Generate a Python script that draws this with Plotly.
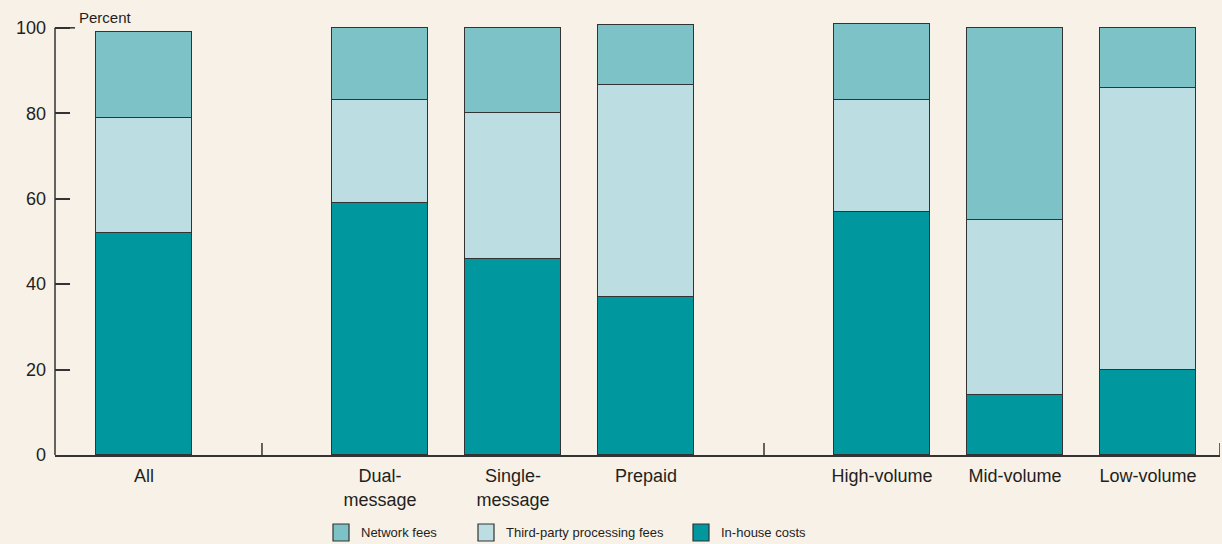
import plotly.graph_objects as go

# Share of total cost by component, grouped by card category
groups = [
    ["All"],
    ["Dual-message", "Single-message", "Prepaid"],
    ["High-volume", "Mid-volume", "Low-volume"],
]
tick_labels = ["All", "Dual-<br>message", "Single-<br>message", "Prepaid",
               "High-volume", "Mid-volume", "Low-volume"]

in_house = [52, 59, 46, 37, 57, 14, 20]
third_party = [27, 24, 34, 49.6, 26, 41, 66]
network = [20, 17, 20, 14, 18, 45, 14]

series_names = ["Network fees", "Third-party processing fees", "In-house costs"]
colors = {"Network fees": "#7cc2c7",
          "Third-party processing fees": "#bcdee3",
          "In-house costs": "#00979f"}

BG = "#f8f1e7"
INK = "#333333"
TEXT = "#231f20"
FONT = "Liberation Sans, Arial, sans-serif"

# x positions: one slot per bar, extra space between groups
GROUP_GAP = 0.774
xpos = []
cur = 0.0
for gi, g in enumerate(groups):
    if gi > 0:
        cur += GROUP_GAP
    for _ in g:
        xpos.append(cur)
        cur += 1.0

# separator marks halfway between the last bar of one group and the first of the next
separators = []
idx = 0
for gi, g in enumerate(groups):
    if gi > 0:
        separators.append((xpos[idx - 1] + xpos[idx]) / 2)
    idx += len(g)

XMIN, XMAX = -0.669, xpos[-1] + 0.541
BAR_W = 0.722
YMAX = 101.6  # a little headroom so totals slightly above 100 are not cut

fig = go.Figure()
stack = [("In-house costs", in_house),
         ("Third-party processing fees", third_party),
         ("Network fees", network)]
for name, vals in stack:
    fig.add_trace(go.Bar(
        x=xpos, y=vals, name=name, width=BAR_W,
        marker=dict(color=colors[name], line=dict(color=INK, width=1.4)),
        showlegend=False,
        hovertemplate="%{y}%<extra>" + name + "</extra>",
    ))

# layout geometry in pixels
W, H = 1222, 544
ML, MR, MT, MB = 55, 2, 21, 89
PW, PH = W - ML - MR, H - MT - MB


def px_x(px):
    return (px - ML) / PW


def px_y(py):
    return (H - MB - py) / PH


shapes, annotations = [], []

# vertical axis line stops at 100
shapes.append(dict(type="line", xref="paper", yref="y", x0=0, x1=0, y0=0, y1=100,
                   line=dict(color=INK, width=1.5)))
# group separator ticks and right-end tick on the baseline
for s in separators + [XMAX]:
    shapes.append(dict(type="line", xref="x", yref="y", x0=s, x1=s, y0=0, y1=2.8,
                       line=dict(color=INK, width=1.5)))
# longer tick at 100 leading to the unit label
shapes.append(dict(type="line", xref="paper", yref="y", x0=0, x1=px_x(75), y0=100, y1=100,
                   line=dict(color=INK, width=1.5)))
annotations.append(dict(text="Percent", xref="paper", yref="paper", x=px_x(77), y=px_y(18),
                        xanchor="left", yanchor="middle", showarrow=False,
                        font=dict(family=FONT, size=15, color=TEXT)))

# legend row
legend_x = {"Network fees": 333, "Third-party processing fees": 478, "In-house costs": 693}
for name in series_names:
    x0 = legend_x[name]
    shapes.append(dict(type="rect", xref="paper", yref="paper",
                       x0=px_x(x0), x1=px_x(x0 + 16), y0=px_y(541), y1=px_y(524),
                       fillcolor=colors[name], line=dict(color=INK, width=1.2)))
    annotations.append(dict(text=name, xref="paper", yref="paper",
                            x=px_x(x0 + 26), y=px_y(532), xanchor="left", yanchor="middle",
                            showarrow=False, font=dict(family=FONT, size=13, color=TEXT)))

fig.update_layout(
    width=W, height=H,
    margin=dict(l=ML, r=MR, t=MT, b=MB, pad=0),
    paper_bgcolor=BG, plot_bgcolor=BG,
    barmode="stack", bargap=0,
    showlegend=False,
    shapes=shapes, annotations=annotations,
    font=dict(family=FONT, color=TEXT),
    xaxis=dict(range=[XMIN, XMAX], tickvals=xpos, ticktext=tick_labels,
               ticks="", showgrid=False, zeroline=False,
               showline=True, linecolor=INK, linewidth=1.5,
               ticklabelstandoff=4,
               tickfont=dict(family=FONT, size=18, color=TEXT),
               fixedrange=True),
    yaxis=dict(range=[0, YMAX], tickvals=[0, 20, 40, 60, 80, 100],
               ticks="inside", ticklen=15, tickcolor=INK, tickwidth=1.5,
               showgrid=False, zeroline=False, showline=False,
               ticklabelstandoff=8,
               tickfont=dict(family=FONT, size=18, color=TEXT),
               fixedrange=True),
)

fig.write_html("out.html")
